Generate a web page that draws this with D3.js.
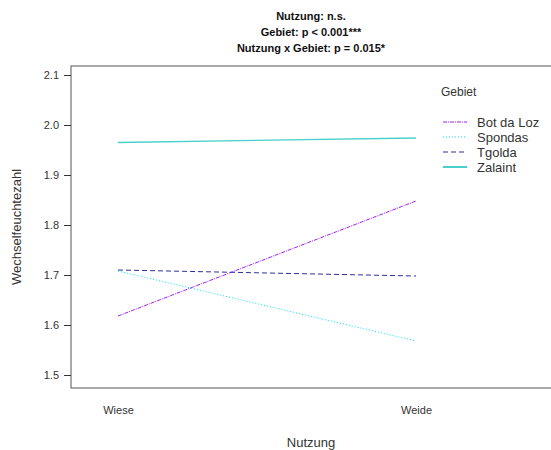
<!DOCTYPE html>
<html>
<head>
<meta charset="utf-8">
<script src="https://cdn.jsdelivr.net/npm/d3@7"></script>
<style>
  body { margin: 0; background: #fff; }
  text { font-family: "Liberation Sans", Arial, sans-serif; }
</style>
</head>
<body>
<div id="chart"></div>
<script>
const nutzung = ['Wiese', 'Weide'];
const gebiete = ['Bot da Loz', 'Spondas', 'Tgolda', 'Zalaint'];
// mean Wechselfeuchtezahl per Gebiet: [Wiese, Weide]
const botDaLoz = [1.618, 1.848];
const spondas = [1.708, 1.568];
const tgolda = [1.710, 1.698];
const zalaint = [1.965, 1.974];
const yTicks = [1.5, 1.6, 1.7, 1.8, 1.9, 2.0, 2.1];
const titleLines = ['Nutzung: n.s.', 'Gebiet: p < 0.001***', 'Nutzung x Gebiet: p = 0.015*'];

const seriesValues = [botDaLoz, spondas, tgolda, zalaint];
const colors = ['#a020f0', '#00e5ee', '#2e2e9e', '#48d1cc'];
const dashes = ['4,1,1,1', '1,2', '5,3', null];

const width = 551, height = 450;
const margin = { top: 66, right: -1, bottom: 62, left: 71 };

const svg = d3.select('#chart')
  .append('svg')
  .attr('width', width)
  .attr('height', height);

const x = d3.scalePoint()
  .domain(nutzung)
  .range([118, 416]);

const y = d3.scaleLinear()
  .domain([1.5, 2.1])
  .range([375, 75]);

// plot box
svg.append('rect')
  .attr('x', margin.left)
  .attr('y', margin.top)
  .attr('width', width - margin.right - margin.left)
  .attr('height', height - margin.bottom - margin.top)
  .attr('fill', 'none')
  .attr('stroke', '#555')
  .attr('stroke-width', 1);

// y axis
const yAxis = svg.append('g')
  .attr('transform', `translate(${margin.left},0)`)
  .call(d3.axisLeft(y).tickValues(yTicks).tickFormat(d3.format('.1f')).tickSize(7).tickPadding(5));
yAxis.select('.domain').remove();
yAxis.selectAll('line').attr('stroke', '#333');
yAxis.selectAll('text').attr('font-size', 11).attr('fill', '#333')
  .style('font-family', '"Liberation Sans", Arial, sans-serif');

// x labels (no ticks)
const xAxis = svg.append('g')
  .attr('transform', `translate(0,${height - margin.bottom})`)
  .call(d3.axisBottom(x).tickSize(0).tickPadding(18));
xAxis.select('.domain').remove();
xAxis.selectAll('text').attr('font-size', 11).attr('fill', '#333')
  .style('font-family', '"Liberation Sans", Arial, sans-serif');

// axis titles
svg.append('text')
  .attr('x', 311).attr('y', 447)
  .attr('text-anchor', 'middle')
  .attr('font-size', 13).attr('fill', '#333')
  .text('Nutzung');

svg.append('text')
  .attr('transform', `translate(21,${(margin.top + height - margin.bottom) / 2}) rotate(-90)`)
  .attr('text-anchor', 'middle')
  .attr('font-size', 13).attr('fill', '#333')
  .text('Wechselfeuchtezahl');

// title
svg.append('g').selectAll('text')
  .data(titleLines)
  .enter()
  .append('text')
    .attr('x', 311)
    .attr('y', (d, i) => 20 + i * 16)
    .attr('text-anchor', 'middle')
    .attr('font-size', 11)
    .attr('font-weight', 'bold')
    .attr('fill', '#111')
    .text((d) => d);

// lines
const line = d3.line()
  .x((d, i) => x(nutzung[i]))
  .y((d) => y(d));

svg.append('g')
  .selectAll('path')
  .data(seriesValues)
  .enter()
  .append('path')
    .attr('d', (d) => line(d))
    .attr('fill', 'none')
    .attr('stroke', (d, i) => colors[i])
    .attr('stroke-width', (d, i) => i === 3 ? 1.3 : 1)
    .attr('stroke-dasharray', (d, i) => dashes[i]);

// legend
const legend = svg.append('g').attr('transform', 'translate(441,0)');
legend.append('text')
  .attr('x', 0).attr('y', 96)
  .attr('font-size', 12).attr('fill', '#333')
  .text('Gebiet');

const item = legend.selectAll('g.item')
  .data(gebiete)
  .enter()
  .append('g')
    .attr('class', 'item')
    .attr('transform', (d, i) => `translate(0,${122 + i * 15})`);

item.append('line')
  .attr('x1', 2).attr('x2', 26)
  .attr('stroke', (d, i) => colors[i])
  .attr('stroke-width', (d, i) => i === 3 ? 2 : 1.2)
  .attr('stroke-dasharray', (d, i) => dashes[i]);

item.append('text')
  .attr('x', 36).attr('y', 4.5)
  .attr('font-size', 13).attr('fill', '#333')
  .text((d) => d);
</script>
</body>
</html>
